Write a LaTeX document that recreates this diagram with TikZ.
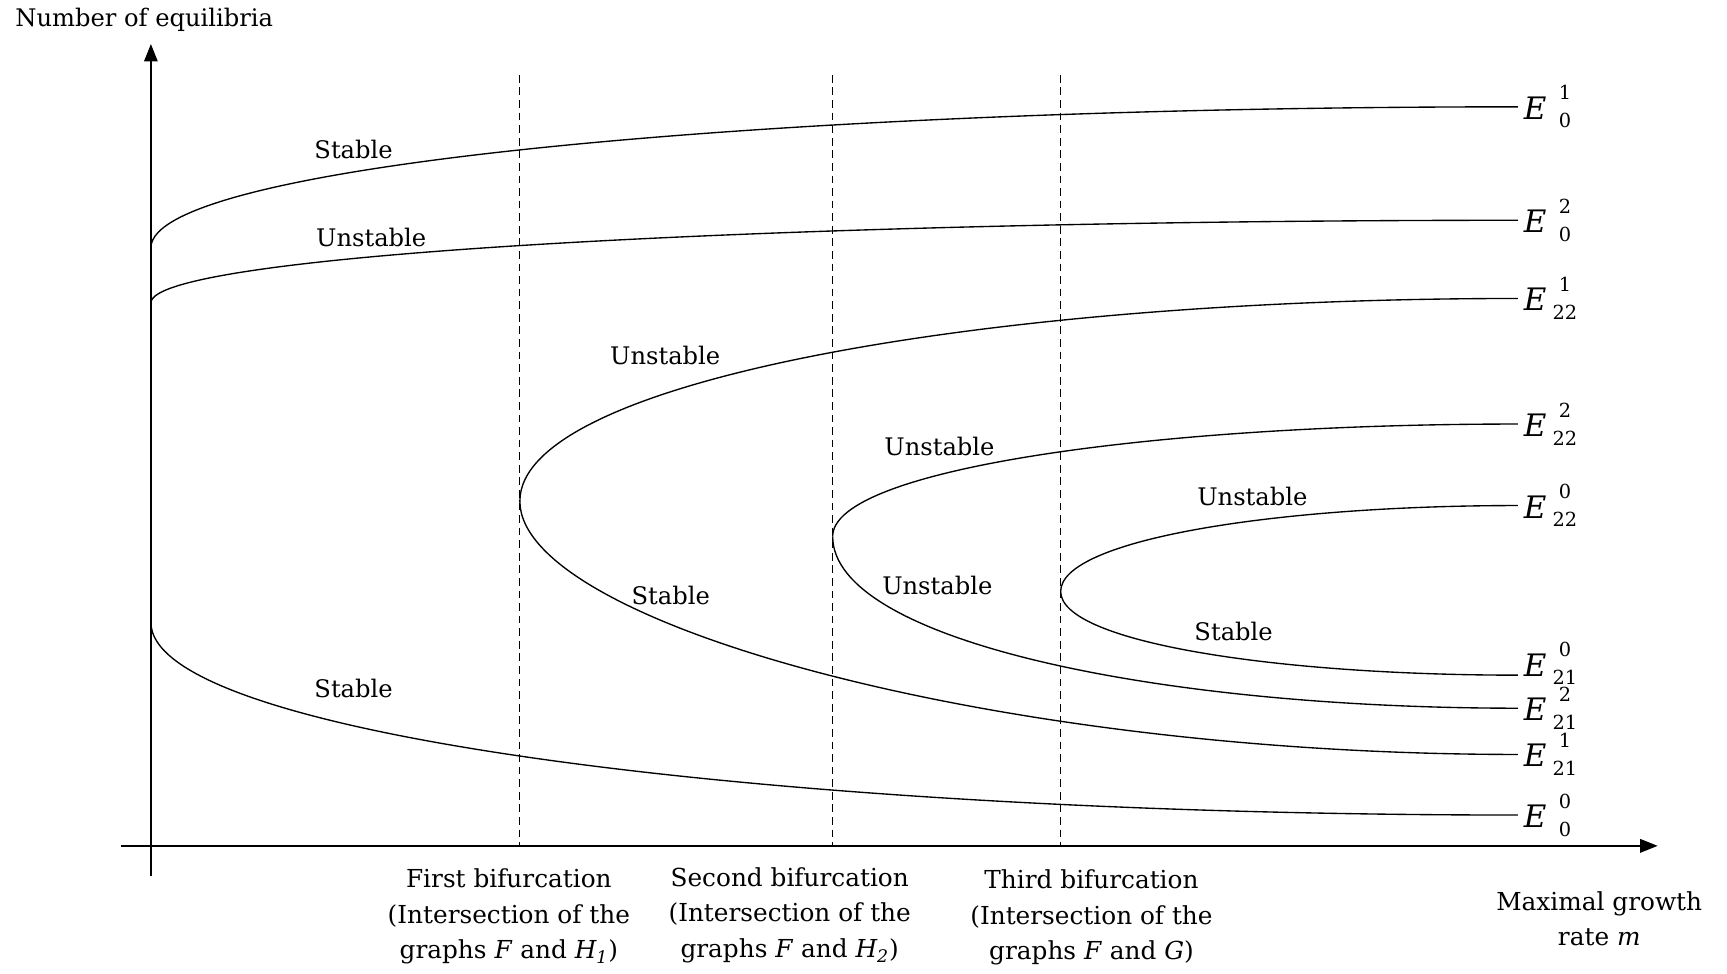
\documentclass[tikz,border=0pt]{standalone}
\usepackage{fontspec}
\setmainfont{DejaVu Serif}
\usetikzlibrary{arrows.meta,positioning}

\newcommand\idx[1]{\fontsize{10}{10}\selectfont #1}
\newcommand\Eq[2]{\textit{E}\hspace{2pt}%
  \makebox[15pt][c]{\raisebox{10pt}{\idx{#1}}}\hspace{-15pt}%
  \makebox[15pt][c]{\raisebox{-4.5pt}{\idx{#2}}}}

\begin{document}
\begin{tikzpicture}[x=0.02cm, y=-0.02cm,
    axis/.style={-{Triangle[length=9pt,width=7pt]}, line width=0.8pt},
    branch/.style={line width=0.7pt},
    bif/.style={dash pattern=on 4pt off 2.5pt, line width=0.6pt},
    tag/.style={font=\fontsize{12.5}{15}\selectfont, inner sep=1pt},
    eqlab/.style={inner sep=1pt, xshift=2pt, font=\fontsize{16}{18}\selectfont},
    note/.style={align=center, font=\fontsize{12.8}{18.2}\selectfont}
]
\useasboundingbox (0,0) rectangle (1568,884);

% axes
\coordinate (ybot) at (137,795);
\coordinate (ytop) at (137,40);
\coordinate (xleft) at (110,768);
\coordinate (xright) at (1505,768);
\draw[axis] (ybot) -- (ytop);
\draw[axis] (xleft) -- (xright);
\node[tag] (ylab) at (131,18) {Number of equilibria};
\node[note] (xlab) at (1452,834) {Maximal growth\\rate \textit{m}};

% bifurcation lines
\foreach \x/\n in {472/1, 756/2, 963/3} {
    \coordinate (bt\n) at (\x,68);
    \coordinate (bb\n) at (\x,768);
    \draw[bif] (bt\n) -- (bb\n);
}
\node[note] (n1) at (462,832) {First bifurcation\\(Intersection of the\\graphs \textit{F} and \textit{H\textsubscript{1}})};
\node[note] (n2) at (717,831) {Second bifurcation\\(Intersection of the\\graphs \textit{F} and \textit{H\textsubscript{2}})};
\node[note] (n3) at (991,833) {Third bifurcation\\(Intersection of the\\graphs \textit{F} and \textit{G})};

% start points and turning points
\coordinate (s1) at (137,225);
\coordinate (s2) at (137,275);
\coordinate (s3) at (137,565);
\coordinate (v1) at (472,455);
\coordinate (v2) at (756,487);
\coordinate (v3) at (963,537);

% end points
\coordinate (c01) at (1378,97);
\coordinate (c02) at (1378,200);
\coordinate (c221) at (1378,271);
\coordinate (c222) at (1378,385);
\coordinate (c220) at (1378,459);
\coordinate (c210) at (1378,613);
\coordinate (c212) at (1378,643);
\coordinate (c211) at (1378,685);
\coordinate (c00) at (1378,740);

% branches
\draw[branch] (s1) .. controls +(0,-77) and +(-658,0) .. (c01);
\draw[branch] (s2) .. controls +(0,-45) and +(-658,0) .. (c02);
\draw[branch] (s3) .. controls +(0,105) and +(-658,0) .. (c00);
\draw[branch] (v1) .. controls +(0,-110) and +(-478,0) .. (c221);
\draw[branch] (v1) .. controls +(0,110) and +(-478,0) .. (c211);
\draw[branch] (v2) .. controls +(0,-61) and +(-330,0) .. (c222);
\draw[branch] (v2) .. controls +(0,94) and +(-330,0) .. (c212);
\draw[branch] (v3) .. controls +(0,-47) and +(-220,0) .. (c220);
\draw[branch] (v3) .. controls +(0,46) and +(-220,0) .. (c210);

% stability
\node[tag] (st1) at (321,136) {Stable};
\node[tag] (un1) at (337,216) {Unstable};
\node[tag] (un2) at (604,323) {Unstable};
\node[tag] (st2) at (609,541) {Stable};
\node[tag] (un3) at (853,405) {Unstable};
\node[tag] (un4) at (851,532) {Unstable};
\node[tag] (un5) at (1137,451) {Unstable};
\node[tag] (st3) at (1120,573) {Stable};
\node[tag] (st4) at (321,625) {Stable};

% equilibria
\node[eqlab, right=0pt of c01] (e01) {\Eq{1}{0}};
\node[eqlab, right=0pt of c02] (e02) {\Eq{2}{0}};
\node[eqlab, right=0pt of c221] (e221) {\Eq{1}{22}};
\node[eqlab, right=0pt of c222] (e222) {\Eq{2}{22}};
\node[eqlab, right=0pt of c220] (e220) {\Eq{0}{22}};
\node[eqlab, right=0pt of c210, yshift=6pt] (e210) {\Eq{0}{21}};
\node[eqlab, right=0pt of c212] (e212) {\Eq{2}{21}};
\node[eqlab, right=0pt of c211] (e211) {\Eq{1}{21}};
\node[eqlab, right=0pt of c00] (e00) {\Eq{0}{0}};

\end{tikzpicture}
\end{document}
